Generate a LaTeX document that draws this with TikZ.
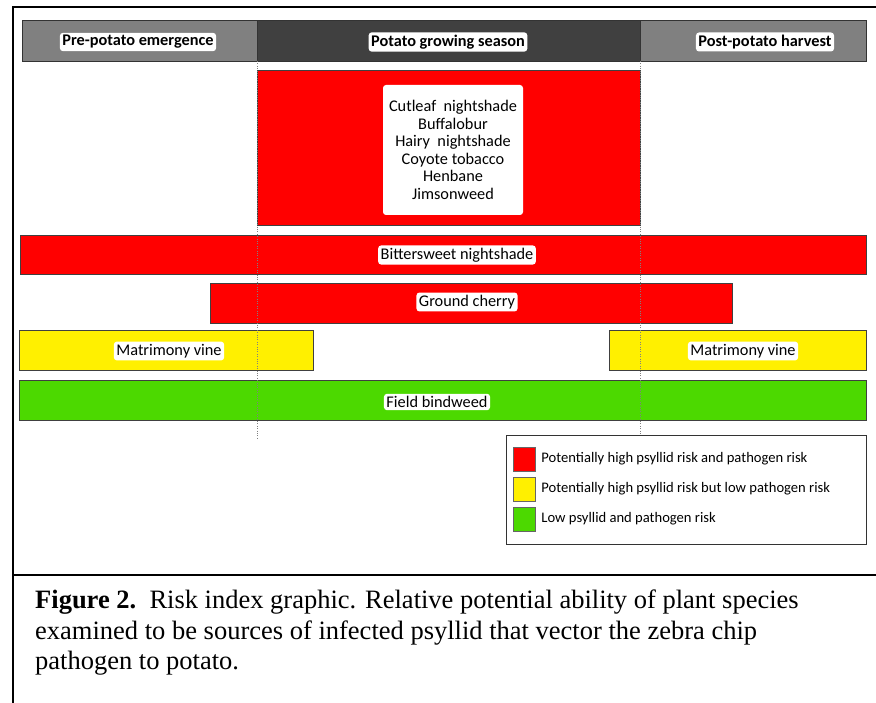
\documentclass[tikz,border=0pt]{standalone}
\usepackage{fontspec}
\setmainfont{Liberation Serif}
\newfontfamily\calib{Carlito}
\usetikzlibrary{positioning}
\definecolor{riskred}{RGB}{255,0,0}
\definecolor{riskyellow}{RGB}{255,240,0}
\definecolor{riskgreen}{RGB}{76,217,0}
\definecolor{pregray}{RGB}{128,128,128}
\definecolor{seasongray}{RGB}{64,64,64}
\newcommand{\riskbar}[5]{\filldraw[#5, draw=black!75, line width=0.6pt] ( #1 , #2 ) rectangle ( #3 , #4 );}

\begin{document}
\begin{tikzpicture}[x=1pt,y=-1pt,
    tag/.style={fill=white, rounded corners=3pt, inner sep=2.5pt, font=\calib\fontsize{16.3}{18}\selectfont},
    headtag/.style={tag, font=\calib\bfseries\fontsize{16.3}{18}\selectfont},
    swatch/.style={draw=black!60, minimum width=22pt, minimum height=24pt, inner sep=0pt},
    legtext/.style={inner sep=0pt, font=\calib\fontsize{14.6}{16}\selectfont}]
    \useasboundingbox (0,0) rectangle (876,703);
    % frame
    \draw[line width=1.3pt] (876,7) -- (13,7) -- (13,703);
    \draw[line width=1.3pt] (13,575) -- (876,575);
    % header
    \filldraw[fill=pregray, draw=black!80] (22,20) rectangle (257,61);
    \filldraw[fill=seasongray, draw=black!80] (257,20) rectangle (640,61);
    \filldraw[fill=pregray, draw=black!80] (640,20) rectangle (866,61);
    \node[headtag] (pre) at (138,42) {Pre-potato emergence};
    \node[headtag] (season) at (448,42) {Potato growing season};
    \node[headtag] (post) at (765,42) {Post-potato harvest};
    %bars
    \( \riskbar{257}{70}{640}{225}{riskred} \);
    \( \riskbar{20}{235}{866}{274}{riskred} \);
    \( \riskbar{210}{283}{732}{323}{riskred} \);
    \( \riskbar{19}{330}{313}{370}{riskyellow} \);
    \( \riskbar{609}{330}{866}{370}{riskyellow} \);
    \( \riskbar{19}{380}{866}{420}{riskgreen} \);
    \node[tag, minimum width=140pt, minimum height=130pt, align=center, font=\calib\fontsize{16.3}{17.6}\selectfont] (solanum) at (453,150)
        {Cutleaf\ \ nightshade\\Buffalobur\\Hairy\ \ nightshade\\Coyote tobacco\\Henbane\\Jimsonweed};
    \node[tag] (bitter) at (457,255) {Bittersweet nightshade};
    \node[tag] (cherry) at (467,302) {Ground cherry};
    \node[tag] (vineleft) at (169,351) {Matrimony vine};
    \node[tag] (vineright) at (743,351) {Matrimony vine};
    \node[tag] (bindweed) at (437,402) {Field bindweed};
    % season limits
    \draw[gray, dotted] (257,61) -- (257,438);
    \draw[gray, dotted] (640,61) -- (640,435);
    % legend
    \filldraw[fill=white, draw=black!80] (506,435) rectangle (866,544);
    \node[swatch, fill=riskred] (sred) at (524,459) {};
    \node[swatch, fill=riskyellow] (syellow) at (524,489) {};
    \node[swatch, fill=riskgreen] (sgreen) at (524,519) {};
    \node[legtext, right=6pt of sred] (tred) {Potentially high psyllid risk and pathogen risk};
    \node[legtext, right=6pt of syellow] (tyellow) {Potentially high psyllid risk but low pathogen risk};
    \node[legtext, right=6pt of sgreen] (tgreen) {Low psyllid and pathogen risk};
    % caption
    \node[anchor=north west, inner sep=0pt, align=left, font=\fontsize{26.5}{30.5}\selectfont] (caption) at (35,590)
        {\textbf{Figure 2.}\ \ Risk index graphic. Relative potential ability of plant species\\
         examined to be sources of infected psyllid that vector the zebra chip\\
         pathogen to potato.};
\end{tikzpicture}
\end{document}
